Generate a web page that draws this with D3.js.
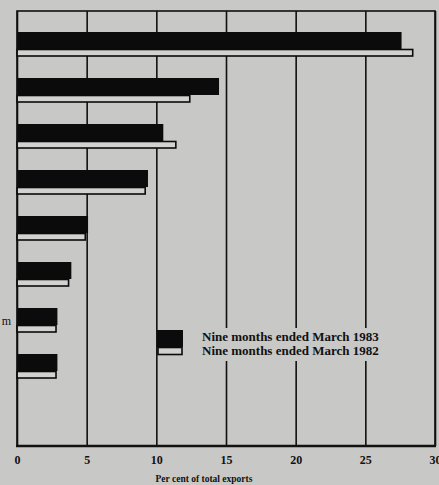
<!DOCTYPE html>
<html>
<head>
<meta charset="utf-8">
<script src="https://cdn.jsdelivr.net/npm/d3@7"></script>
<style>
  body { margin: 0; background: #c8c8c6; }
  svg { display: block; }
</style>
</head>
<body>
<div id="chart"></div>
<script>
// row labels are cut off at the left edge of the scan, only one fragment shows
const rowLabels = ["", "", "", "", "", "", "m", ""];
const series = ["Nine months ended March 1983", "Nine months ended March 1982"];
const values1983 = [27.6, 14.5, 10.5, 9.4, 5.1, 3.9, 2.9, 2.9];
const values1982 = [28.4, 12.4, 11.4, 9.2, 4.9, 3.7, 2.8, 2.8];
const xTicks = [0, 5, 10, 15, 20, 25, 30];
const xTitle = "Per cent of total exports";

const W = 439, H = 485;
const plot = {left: 17, right: 435, top: 11, bottom: 446};
const font = "'Liberation Serif', 'DejaVu Serif', serif";

const svg = d3.select("#chart")
    .append("svg")
    .attr("width", W)
    .attr("height", H);

svg.append("rect")
    .attr("width", W)
    .attr("height", H)
    .attr("fill", "#c8c8c6");

const x = d3.scaleLinear()
    .domain([0, 30])
    .range([plot.left, plot.right]);

// 8 rows, 46px apart, leaving room for the legend at the bottom
const y = d3.scaleBand()
    .domain(d3.range(rowLabels.length))
    .range([plot.top, plot.top + 46 * rowLabels.length]);

// vertical grid + tick labels
const xAxis = d3.axisBottom(x)
    .tickValues(xTicks)
    .tickSize(-(plot.bottom - plot.top))
    .tickPadding(9)
    .tickFormat(d3.format("d"));

const gx = svg.append("g")
    .attr("transform", `translate(0, ${plot.bottom})`)
    .call(xAxis);
gx.select(".domain").remove();
gx.selectAll("line")
    .attr("stroke", "#111")
    .attr("stroke-width", 1.6);
gx.selectAll("text")
    .attr("fill", "#111")
    .style("font-family", font)
    .style("font-weight", "bold")
    .style("font-size", "12px");

// 1983 bars (solid black)
svg.append("g")
    .selectAll("rect")
    .data(values1983)
    .join("rect")
    .attr("x", x(0))
    .attr("y", (d, i) => y(i) + 21)
    .attr("width", d => x(d) - x(0))
    .attr("height", 17)
    .attr("fill", "#0b0b0b");

// 1982 bars (light, outlined)
svg.append("g")
    .selectAll("rect")
    .data(values1982)
    .join("rect")
    .attr("x", x(0))
    .attr("y", (d, i) => y(i) + 38.5)
    .attr("width", d => x(d) - x(0))
    .attr("height", 6.5)
    .attr("fill", "#d2d2d0")
    .attr("stroke", "#0b0b0b")
    .attr("stroke-width", 1.6);

// frame
svg.append("rect")
    .attr("x", plot.left)
    .attr("y", plot.top)
    .attr("width", plot.right - plot.left)
    .attr("height", plot.bottom - plot.top)
    .attr("fill", "none")
    .attr("stroke", "#111")
    .attr("stroke-width", 1.6);
svg.append("line")
    .attr("x1", plot.left - 1).attr("x2", plot.right + 1)
    .attr("y1", plot.bottom).attr("y2", plot.bottom)
    .attr("stroke", "#111")
    .attr("stroke-width", 2.4);

// row labels
svg.append("g")
    .selectAll("text")
    .data(rowLabels)
    .join("text")
    .attr("x", 11)
    .attr("y", (d, i) => y(i) + 35)
    .attr("text-anchor", "end")
    .attr("dominant-baseline", "middle")
    .style("font-family", font)
    .style("font-size", "12px")
    .attr("fill", "#111")
    .text(d => d);

// axis title
svg.append("text")
    .attr("x", 204)
    .attr("y", 482)
    .attr("text-anchor", "middle")
    .style("font-family", font)
    .style("font-weight", "bold")
    .style("font-size", "9.5px")
    .attr("fill", "#111")
    .text(xTitle);

// legend
const legend = svg.append("g");
legend.append("rect")
    .attr("x", 195).attr("y", 328)
    .attr("width", 190).attr("height", 33)
    .attr("fill", "#c8c8c6");
legend.append("rect")
    .attr("x", 157).attr("y", 330)
    .attr("width", 26).attr("height", 17)
    .attr("fill", "#0b0b0b");
legend.append("rect")
    .attr("x", 158).attr("y", 347.5)
    .attr("width", 24).attr("height", 7)
    .attr("fill", "#d2d2d0")
    .attr("stroke", "#0b0b0b")
    .attr("stroke-width", 1.6);
legend.selectAll("text.lbl")
    .data(series)
    .join("text")
    .attr("class", "lbl")
    .attr("x", 202)
    .attr("y", (d, i) => 341 + i * 13.5)
    .style("font-family", font)
    .style("font-weight", "bold")
    .style("font-size", "13px")
    .attr("fill", "#111")
    .text(d => d);
</script>
</body>
</html>
